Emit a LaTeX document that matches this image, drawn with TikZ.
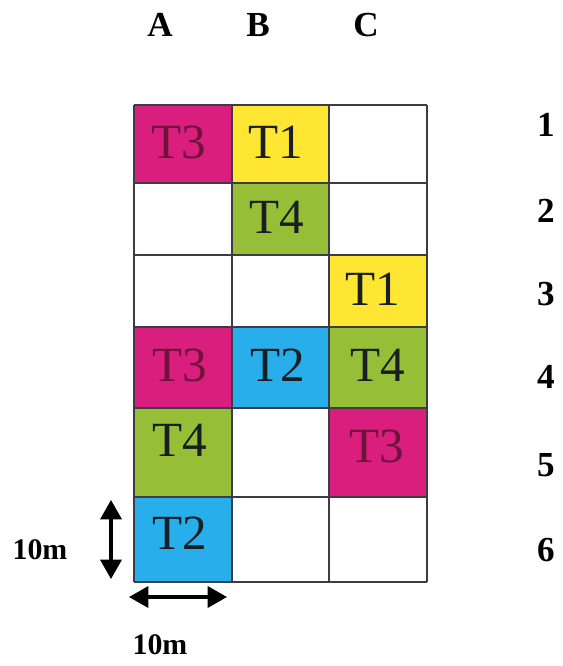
\documentclass[tikz,border=0pt]{standalone}
\usepackage{fontspec}
\setmainfont{Liberation Serif}
\usetikzlibrary{arrows.meta}

\definecolor{plotpink}{RGB}{218,30,125}
\definecolor{plotyellow}{RGB}{255,230,50}
\definecolor{plotgreen}{RGB}{150,190,55}
\definecolor{plotblue}{RGB}{40,175,235}
\definecolor{gridgray}{RGB}{60,60,70}
\definecolor{inkdark}{RGB}{25,30,35}
\definecolor{inkpink}{RGB}{110,20,60}

\tikzset{
	treat/.style={font=\fontsize{28}{28}\selectfont, text=inkdark},
	treatpink/.style={treat, text=inkpink},
	axislabel/.style={font=\fontsize{20}{20}\selectfont\bfseries},
	sizelabel/.style={font=\fontsize{17}{17}\selectfont\bfseries},
	gridline/.style={line width=0.85pt, gridgray},
	measure/.style={line width=1.8pt, {Triangle[length=11pt,width=12pt]}-{Triangle[length=11pt,width=12pt]}}
}

\begin{document}
\begin{tikzpicture}[x=0.02cm, y=-0.02cm]
		\useasboundingbox [fill=white] (0,0) rectangle (562,666);

		% plot cells
		\fill [plotpink] (134,105) rectangle (232,183);
		\fill [plotyellow] (232,105) rectangle (329,183);
		\fill [plotgreen] (232,183) rectangle (329,255);
		\fill [plotyellow] (329,255) rectangle (427,327);
		\fill [plotpink] (134,327) rectangle (232,408);
		\fill [plotblue] (232,327) rectangle (329,408);
		\fill [plotgreen] (329,327) rectangle (427,408);
		\fill [plotgreen] (134,408) rectangle (232,497);
		\fill [plotpink] (329,408) rectangle (427,497);
		\fill [plotblue] (134,497) rectangle (232,582);

		% grid
		\draw [gridline] (134,105) -- (427,105);
		\draw [gridline] (134,183) -- (427,183);
		\draw [gridline] (134,255) -- (427,255);
		\draw [gridline] (134,327) -- (427,327);
		\draw [gridline] (134,408) -- (427,408);
		\draw [gridline] (134,497) -- (427,497);
		\draw [gridline] (134,582) -- (427,582);
		\draw [gridline] (134,105) -- (134,582);
		\draw [gridline] (232,105) -- (232,582);
		\draw [gridline] (329,105) -- (329,582);
		\draw [gridline] (427,105) -- (427,582);

		% treatments
		\node [treatpink] (a1) at (179,142) {T3};
		\node [treat] (b1) at (276,142) {T1};
		\node [treat] (b2) at (277,217) {T4};
		\node [treat] (c3) at (373,289) {T1};
		\node [treatpink] (a4) at (180,365) {T3};
		\node [treat] (b4) at (278,365) {T2};
		\node [treat] (c4) at (378,365) {T4};
		\node [treat] (a5) at (180,440) {T4};
		\node [treatpink] (c5) at (377,446) {T3};
		\node [treat] (a6) at (180,533) {T2};

		% column and row labels
		\node [axislabel] (colA) at (160,25) {A};
		\node [axislabel] (colB) at (258,25) {B};
		\node [axislabel] (colC) at (366,25) {C};
		\node [axislabel] (row1) at (546,125) {1};
		\node [axislabel] (row2) at (546,211) {2};
		\node [axislabel] (row3) at (546,294) {3};
		\node [axislabel] (row4) at (546,377) {4};
		\node [axislabel] (row5) at (546,465) {5};
		\node [axislabel] (row6) at (546,550) {6};

		% plot size
		\coordinate (vtop) at (111,500);
		\coordinate (vbot) at (111,579);
		\coordinate (hleft) at (129,597);
		\coordinate (hright) at (227,597);
		\draw [measure] (vtop) -- (vbot);
		\draw [measure] (hleft) -- (hright);
		\node [sizelabel] (sizev) at (40,550) {10m};
		\node [sizelabel] (sizeh) at (160,645) {10m};

		\end{tikzpicture}
\end{document}
